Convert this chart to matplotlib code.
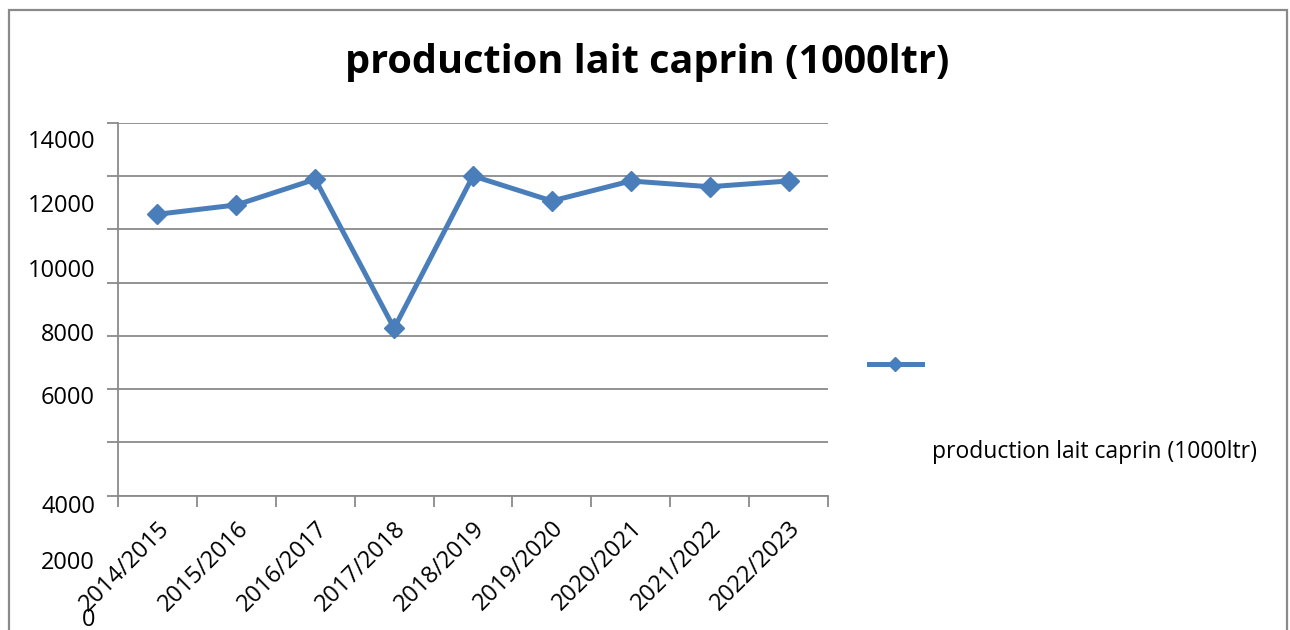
import matplotlib.pyplot as plt
from matplotlib.lines import Line2D
from matplotlib.patches import Rectangle

plt.rcParams["font.family"] = ["Open Sans", "DejaVu Sans"]

TITLE = "production lait caprin (1000ltr)"
SERIES_NAME = "production lait caprin (1000ltr)"
SEASONS = ["2014/2015", "2015/2016", "2016/2017", "2017/2018", "2018/2019",
           "2019/2020", "2020/2021", "2021/2022", "2022/2023"]
PRODUCTION = [10570, 10920, 11885, 6285, 12010, 11070, 11820, 11605, 11820]
Y_GRID = [0, 2000, 4000, 6000, 8000, 10000, 12000, 14000]
Y_LABELS = ["14000", "12000", "10000", "8000", "6000", "4000", "2000", "0"]
# the source image has its value labels drifted off the gridlines; pixel rows (from top)
Y_LABEL_ROWS = [142, 206, 271, 335, 398, 507, 563, 620]

BLUE = "#4a7ebb"
GRID = "#8a8a8a"
W, H = 1290, 630

fig = plt.figure(figsize=(W / 100, H / 100), dpi=100)

# outer chart frame (bottom edge is cut off in the original)
fig.patches.append(Rectangle((9 / W, -0.05), (1287 - 9) / W, 1.05 - 10 / H,
                             transform=fig.transFigure, fill=False,
                             edgecolor=GRID, linewidth=1.6))

ax = fig.add_axes([118 / W, 1 - 495.5 / H, (828 - 118) / W, (495.5 - 123) / H])
x = list(range(len(SEASONS)))
ax.plot(x, PRODUCTION, color=BLUE, linewidth=3.6, marker="D", markersize=10.5,
        markerfacecolor=BLUE, markeredgecolor=BLUE, solid_joinstyle="miter")

ax.set_xlim(-0.5, len(SEASONS) - 0.5)
ax.set_ylim(0, 14000)
ax.set_yticks(Y_GRID)
ax.set_yticklabels([])
ax.grid(axis="y", color=GRID, linewidth=1.3)
ax.set_axisbelow(True)
ax.tick_params(axis="y", length=8, color=GRID, width=1.3, direction="out")

ax.set_xticks([i - 0.5 for i in range(len(SEASONS) + 1)])
ax.set_xticklabels([])
ax.set_xticks(x, minor=True)
ax.set_xticklabels(SEASONS, minor=True, rotation=45, ha="right", va="top",
                   rotation_mode="anchor", fontsize=17)
ax.tick_params(axis="x", which="major", length=8, color=GRID, width=1.3)
ax.tick_params(axis="x", which="minor", length=0, pad=15)

for s in ["top", "right"]:
    ax.spines[s].set_visible(False)
for s in ["left", "bottom"]:
    ax.spines[s].set_color(GRID)
    ax.spines[s].set_linewidth(1.3)

for lab, row in zip(Y_LABELS, Y_LABEL_ROWS):
    fig.text(95 / W, 1 - row / H, lab, ha="right", va="center", fontsize=17)

fig.text(647 / W, 1 - 63 / H, TITLE, ha="center", va="center",
         fontsize=28.5, fontweight="bold")

# legend, laid out as in the original (key and text far apart)
fig.lines.append(Line2D([869 / W, 922 / W], [1 - 364 / H, 1 - 364 / H],
                        transform=fig.transFigure, color=BLUE, linewidth=3.6))
fig.lines.append(Line2D([895.5 / W], [1 - 364 / H], transform=fig.transFigure,
                        marker="D", markersize=7, color=BLUE, linestyle="none"))
fig.text(932 / W, 1 - 452 / H, SERIES_NAME, ha="left", va="center", fontsize=16.5)

fig.savefig("out.png", dpi=100)
